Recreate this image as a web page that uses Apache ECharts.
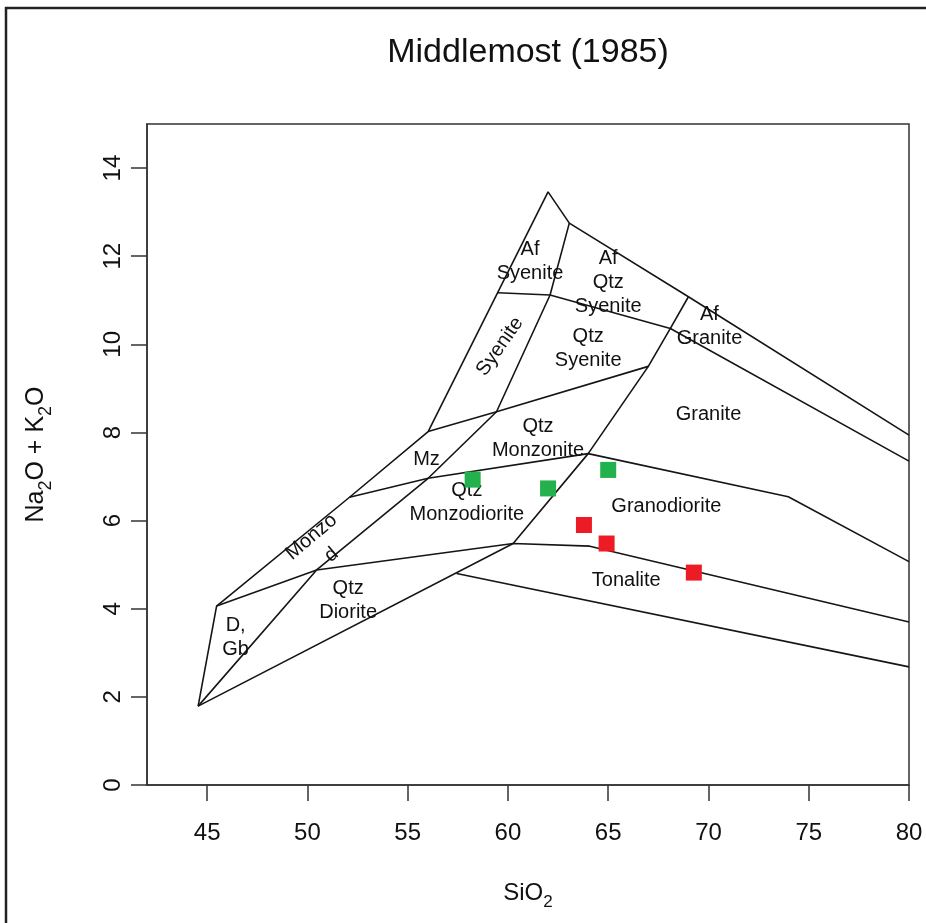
<!DOCTYPE html>
<html><head><meta charset="utf-8">
<script src="https://cdn.jsdelivr.net/npm/echarts@6/dist/echarts.min.js"></script>
<style>html,body{margin:0;padding:0;background:#fff}#c{width:926px;height:923px}</style>
</head><body><div id="c"></div>
<script>
// Axis ticks
const xTicks = [45, 50, 55, 60, 65, 70, 75, 80];
const yTicks = [0, 2, 4, 6, 8, 10, 12, 14];

// Field boundaries (SiO2, Na2O+K2O)
const outerBoundary = [[44.55,1.79],[45.47,4.06],[52.1,6.53],[56.02,8.02],[62.0,13.46],[63.06,12.75],[69.0,11.08],[80,7.94]];
const syeniteDivide = [[44.55,1.79],[50.46,4.88],[56.02,6.96],[59.43,8.47],[62.1,11.12],[63.06,12.75]];
const dioriteBase = [[44.55,1.79],[60.26,5.48],[64.08,5.42],[80,3.70]];
const gabbroTop = [[45.47,4.06],[50.46,4.88],[60.26,5.48]];
const monzoniteBase = [[52.1,6.53],[56.02,6.96],[64.0,7.52],[73.98,6.54],[80,5.07]];
const monzoniteTop = [[56.02,8.02],[59.43,8.47],[67.0,9.5]];
const graniteLeft = [[60.26,5.48],[64.0,7.52],[67.0,9.5],[68.1,10.36],[69.0,11.08]];
const alkaliBase = [[59.5,11.17],[62.1,11.12],[68.1,10.36],[80,7.35]];
const tonaliteBase = [[57.44,4.80],[80,2.68]];

// Samples
const greenSamples = [[58.24,6.93],[62.0,6.73],[65.0,7.15]];
const redSamples = [[63.79,5.90],[64.92,5.48],[69.27,4.82]];

// Field names and anchors
const fieldNames = ['Af\nSyenite','Af\nQtz\nSyenite','Qtz\nSyenite','Syenite','Af\nGranite','Granite','Qtz\nMonzonite','Granodiorite','Tonalite','Qtz\nMonzodiorite','Mz','Monzo','d','Qtz\nDiorite','D,\nGb'];
const fieldAnchors = [[61.1,11.88],[65.0,11.4],[64.0,9.9],[59.6,9.95],[70.05,10.4],[70.0,8.4],[61.5,7.86],[67.9,6.32],[65.9,4.65],[57.95,6.4],[55.94,7.39],[50.2,5.63],[51.2,5.22],[52.03,4.18],[46.42,3.35]];

const labelRotation = {'Syenite': 55, 'Monzo': 40, 'd': 40};
const FONT = 'Liberation Sans, Arial, Helvetica, sans-serif';
const INK = '#111111';

const boundaries = [outerBoundary, syeniteDivide, dioriteBase, gabbroTop, monzoniteBase, monzoniteTop, graniteLeft, alkaliBase, tonaliteBase];

const series = boundaries.map(b => ({
  type: 'line', data: b, showSymbol: false, symbol: 'none', silent: true,
  lineStyle: { color: '#151515', width: 1.6 }, z: 2, animation: false
}));

series.push({
  type: 'scatter', silent: true, symbolSize: 1, z: 3, animation: false,
  itemStyle: { color: 'rgba(255,255,255,0)', opacity: 1 },
  label: { show: true, position: 'inside', fontSize: 20, lineHeight: 24, color: INK, opacity: 1,
    textBorderWidth: 0, fontFamily: FONT, align: 'center', verticalAlign: 'middle' },
  data: fieldNames.map((n, i) => ({
    value: fieldAnchors[i],
    label: { formatter: n, rotate: labelRotation[n] || 0 }
  }))
});

series.push({
  type: 'scatter', data: greenSamples, symbol: 'rect', symbolSize: 16, z: 4, animation: false,
  itemStyle: { color: '#22b14c', opacity: 1 }
});
series.push({
  type: 'scatter', data: redSamples, symbol: 'rect', symbolSize: 16, z: 4, animation: false,
  itemStyle: { color: '#ed1c24', opacity: 1 }
});

const subRich = (fs) => ({ s: { fontSize: fs, verticalAlign: 'bottom', color: INK, fontFamily: FONT } });

const chart = echarts.init(document.getElementById('c'), null, { renderer: 'canvas' });
chart.setOption({
  animation: false,
  backgroundColor: '#fff',
  title: {
    text: 'Middlemost (1985)', left: 528, top: 36, textAlign: 'center', padding: 0,
    textStyle: { fontSize: 34, fontWeight: 'normal', color: INK, fontFamily: FONT }
  },
  graphic: [{
    type: 'polyline', silent: true,
    shape: { points: [[6, 923], [6, 8], [926, 8]] },
    style: { stroke: '#222', lineWidth: 2.5, fill: null }
  }],
  grid: { left: 147, right: 17, top: 124, bottom: 138, show: true, borderColor: '#333', borderWidth: 1.5 },
  xAxis: {
    type: 'value', min: 42, max: 80,
    axisLine: { show: true, lineStyle: { color: '#333', width: 1.5 } },
    axisTick: { show: true, inside: false, length: 16, customValues: xTicks, lineStyle: { color: '#333', width: 1.5 } },
    axisLabel: { customValues: xTicks, fontSize: 24, color: INK, margin: 36, fontFamily: FONT },
    splitLine: { show: false },
    name: 'SiO{s|2}', nameLocation: 'middle', nameGap: 90,
    nameTextStyle: { fontSize: 24, lineHeight: 36, color: INK, fontFamily: FONT, rich: subRich(17) }
  },
  yAxis: {
    type: 'value', min: 0, max: 15,
    axisLine: { show: true, lineStyle: { color: '#333', width: 1.5 } },
    axisTick: { show: true, inside: false, length: 16, customValues: yTicks, lineStyle: { color: '#333', width: 1.5 } },
    axisLabel: { customValues: yTicks, fontSize: 24, color: INK, margin: 22, rotate: 90, fontFamily: FONT },
    splitLine: { show: false },
    name: 'Na{s|2}O + K{s|2}O', nameLocation: 'middle', nameGap: 92, nameRotate: 90,
    nameTextStyle: { fontSize: 25, lineHeight: 37, color: INK, fontFamily: FONT, rich: subRich(18) }
  },
  series: series
});
</script></body></html>
